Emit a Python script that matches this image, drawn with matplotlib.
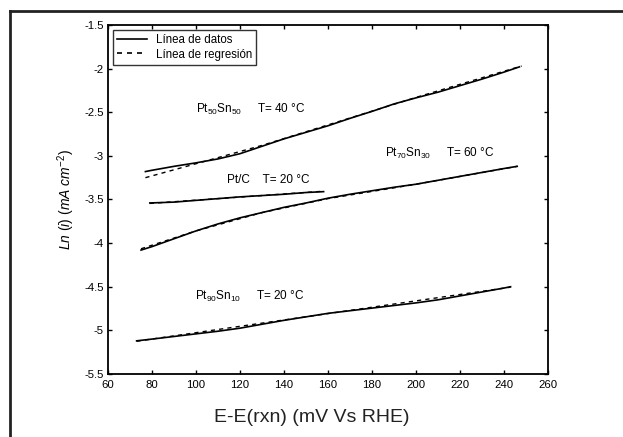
import matplotlib
matplotlib.use("Agg")
import matplotlib.pyplot as plt
from matplotlib.lines import Line2D

plt.rcParams['font.family'] = ['Liberation Sans', 'DejaVu Sans']
plt.rcParams['mathtext.fontset'] = 'custom'
plt.rcParams['mathtext.rm'] = 'Liberation Sans'
plt.rcParams['mathtext.it'] = 'Liberation Sans:italic'

# Pt50Sn50 T=40 C
e1 = [77, 80, 90, 100, 110, 120, 130, 140, 150, 160, 170, 180, 190, 200, 210, 220, 230, 240, 247]
l1 = [-3.18, -3.165, -3.12, -3.08, -3.035, -2.975, -2.89, -2.805, -2.73, -2.655, -2.57, -2.49,
      -2.405, -2.335, -2.27, -2.195, -2.12, -2.04, -1.98]
r1_e = [77, 100, 130, 160, 200, 248]
r1_l = [-3.25, -3.09, -2.88, -2.645, -2.33, -1.97]

# Pt/C T=20 C
e2 = [79, 90, 100, 110, 120, 130, 140, 150, 158]
l2 = [-3.54, -3.53, -3.51, -3.49, -3.47, -3.455, -3.44, -3.42, -3.41]
r2_e = [79, 158]
r2_l = [-3.545, -3.405]

# Pt70Sn30 T=60 C
e3 = [75, 80, 90, 100, 110, 120, 130, 140, 150, 160, 170, 180, 190, 200, 210, 220, 230, 240, 246]
l3 = [-4.08, -4.04, -3.95, -3.86, -3.78, -3.71, -3.65, -3.59, -3.54, -3.485, -3.44, -3.40,
      -3.36, -3.325, -3.28, -3.235, -3.19, -3.145, -3.12]
r3_e = [75, 100, 130, 160, 200, 246]
r3_l = [-4.065, -3.86, -3.65, -3.49, -3.325, -3.12]

# Pt90Sn10 T=20 C
e4 = [73, 80, 90, 100, 110, 120, 130, 140, 150, 160, 170, 180, 190, 200, 210, 220, 230, 240, 243]
l4 = [-5.12, -5.10, -5.07, -5.04, -5.01, -4.975, -4.93, -4.885, -4.845, -4.805, -4.775, -4.745,
      -4.715, -4.685, -4.65, -4.605, -4.56, -4.515, -4.50]
r4_e = [73, 243]
r4_l = [-5.125, -4.505]

xticks = [60, 80, 100, 120, 140, 160, 180, 200, 220, 240, 260]
yticks = [-5.5, -5, -4.5, -4, -3.5, -3, -2.5, -2, -1.5]
ytick_labels = ['-5.5', '-5', '-4.5', '-4', '-3.5', '-3', '-2.5', '-2', '-1.5']

fig = plt.figure(figsize=(6.23, 4.37), dpi=100)
ax = fig.add_axes([0.1734, 0.1442, 0.7062, 0.7986])

for e, l in [(e1, l1), (e2, l2), (e3, l3), (e4, l4)]:
    ax.plot(e, l, color='black', lw=1.2)
for e, l in [(r1_e, r1_l), (r2_e, r2_l), (r3_e, r3_l), (r4_e, r4_l)]:
    ax.plot(e, l, color='black', lw=1.0, ls=(0, (3, 3)))

ax.set_xlim(60, 260)
ax.set_ylim(-5.5, -1.5)
ax.set_xticks(xticks)
ax.set_xticklabels([str(t) for t in xticks])
ax.set_yticks(yticks)
ax.set_yticklabels(ytick_labels)
ax.tick_params(direction='in', length=3, width=1, top=True, right=True, labelsize=8.2)
ax.tick_params(axis='x', pad=4)
ax.tick_params(axis='y', pad=3)
for s in ax.spines.values():
    s.set_linewidth(1.3)

ax.set_xlabel('E-E(rxn) (mV Vs RHE)', fontsize=14, color='#222222')
ax.xaxis.set_label_coords(0.464, -0.1)
ax.set_ylabel(r'$Ln\ (i)\ (mA\ cm^{-2})$', fontsize=10, labelpad=5)

fs = 8.5
ax.text(100, -2.47, r'Pt$_{50}$Sn$_{50}$     T= 40 °C', fontsize=fs, va='center')
ax.text(114, -3.28, 'Pt/C    T= 20 °C', fontsize=fs, va='center')
ax.text(186, -2.97, r'Pt$_{70}$Sn$_{30}$     T= 60 °C', fontsize=fs, va='center')
ax.text(99.5, -4.61, r'Pt$_{90}$Sn$_{10}$     T= 20 °C', fontsize=fs, va='center')

handles = [Line2D([], [], color='black', lw=1.2),
           Line2D([], [], color='black', lw=1.2, ls=(0, (3, 3)))]
leg = ax.legend(handles, ['Línea de datos', 'Línea de regresión'], loc='upper left',
                fontsize=8.3, frameon=True, fancybox=False, edgecolor='black',
                borderaxespad=0.4, handlelength=2.6, labelspacing=0.25, borderpad=0.35,
                handletextpad=0.8)
leg.get_frame().set_linewidth(1.0)

# outer frame (top and left edges)
fig.add_artist(Line2D([10 / 623, 1], [1 - 11 / 437, 1 - 11 / 437], color='#222222', lw=2,
                      transform=fig.transFigure))
fig.add_artist(Line2D([10 / 623, 10 / 623], [0, 1 - 11 / 437], color='#222222', lw=2,
                      transform=fig.transFigure))

fig.savefig('out.png', dpi=100)
